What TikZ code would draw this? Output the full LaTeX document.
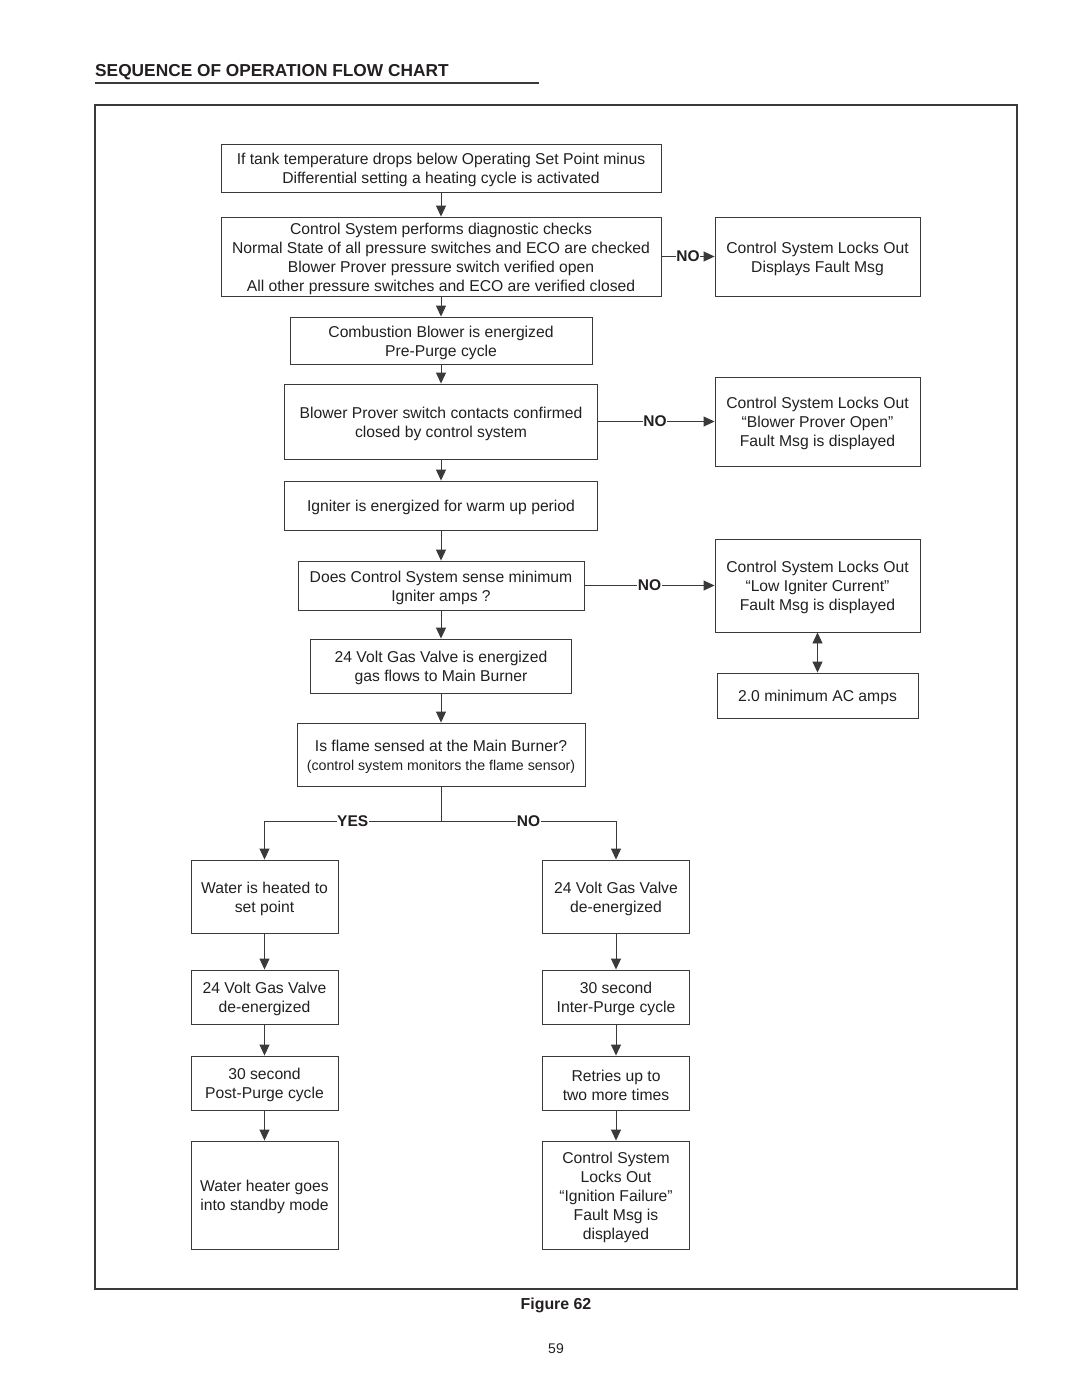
\documentclass[tikz,border=0pt]{standalone}
\usepackage{fontspec}
\setmainfont{Liberation Sans}
\usetikzlibrary{arrows.meta}
\definecolor{ink}{HTML}{231F20}
\definecolor{ln}{HTML}{3A3A3A}
\tikzset{
  frame/.style={draw=ln, line width=0.9pt, inner sep=0pt},
  txt/.style={align=center, inner sep=0pt, text=ink, font=\fontsize{15.7}{19}\selectfont},
  arr/.style={draw=ln, line width=0.9pt, -{Triangle[length=11pt,width=10pt]}},
  dblarr/.style={draw=ln, line width=0.9pt, {Triangle[length=11pt,width=10pt]}-{Triangle[length=11pt,width=10pt]}},
  plain/.style={draw=ln, line width=0.9pt},
  lbl/.style={fill=white, inner sep=0.5pt, text=ink, font=\fontsize{15.5}{16}\selectfont\bfseries},
}
% \flowbox{name}{center}{width}{height}{text}
\newcommand\flowbox[5]{%
  \node[frame, minimum width=#3, minimum height=#4] (#1) at (#2) {};
  \node[txt] (#1-t) at ([yshift=-2pt]#1.center) {#5};
}
\begin{document}
\begin{tikzpicture}[x=1pt,y=-1pt]
\useasboundingbox (0,0) rectangle (1080,1397);
% title
\node[anchor=base west, inner sep=0, text=ink, font=\fontsize{17.3}{20}\selectfont\bfseries] (title) at (95,77) {SEQUENCE OF OPERATION FLOW CHART};
\draw[ln, line width=1.8pt] (95,83) -- (539,83);
% frame
\draw[ln, line width=1.8pt] (95,105) rectangle (1017,1289);

% main column
\flowbox{b1}{441,168}{440pt}{48pt}{If tank temperature drops below Operating Set Point minus\\Differential setting a heating cycle is activated}
\flowbox{b2}{441,256.5}{440pt}{79pt}{Control System performs diagnostic checks\\Normal State of all pressure switches and ECO are checked\\Blower Prover pressure switch verified open\\All other pressure switches and ECO are verified closed}
\flowbox{b3}{441,340.5}{302pt}{47pt}{Combustion Blower is energized\\Pre-Purge cycle}
\flowbox{b4}{441,421.5}{313pt}{75pt}{Blower Prover switch contacts confirmed\\closed by control system}
\flowbox{b5}{441,505.5}{313pt}{49pt}{Igniter is energized for warm up period}
\flowbox{b6}{441,585.5}{286pt}{49pt}{Does Control System sense minimum\\Igniter amps ?}
\flowbox{b7}{441,666}{261pt}{54pt}{24 Volt Gas Valve is energized\\gas flows to Main Burner}
\flowbox{b8}{441,754.5}{288pt}{63pt}{Is flame sensed at the Main Burner?\\{\fontsize{14.2}{19}\selectfont(control system monitors the flame sensor)}}

% right column
\flowbox{r1}{817.5,256.5}{205pt}{79pt}{Control System Locks Out\\Displays Fault Msg}
\flowbox{r2}{817.5,421.5}{205pt}{89pt}{Control System Locks Out\\“Blower Prover Open”\\Fault Msg is displayed}
\flowbox{r3}{817.5,585.5}{205pt}{93pt}{Control System Locks Out\\“Low Igniter Current”\\Fault Msg is displayed}
\flowbox{r4}{817.5,695.5}{201pt}{45pt}{2.0 minimum AC amps}

% lower left column
\flowbox{l1}{264.5,896.5}{147pt}{73pt}{Water is heated to\\set point}
\flowbox{l2}{264.5,997}{147pt}{54pt}{24 Volt Gas Valve\\de-energized}
\flowbox{l3}{264.5,1083}{147pt}{54pt}{30 second\\Post-Purge cycle}
\flowbox{l4}{264.5,1195}{147pt}{108pt}{Water heater goes\\into standby mode}

% lower right column
\flowbox{m1}{616,896.5}{147pt}{73pt}{24 Volt Gas Valve\\de-energized}
\flowbox{m2}{616,997}{147pt}{54pt}{30 second\\Inter-Purge cycle}
\flowbox{m3}{616,1083}{147pt}{54pt}{Retries up to\\two more times}
\flowbox{m4}{616,1195}{147pt}{108pt}{Control System\\Locks Out\\“Ignition Failure”\\Fault Msg is\\displayed}

% main arrows
\draw[arr] (b1) -- (b2);
\draw[arr] (b2) -- (b3);
\draw[arr] (b3) -- (b4);
\draw[arr] (b4) -- (b5);
\draw[arr] (b5) -- (b6);
\draw[arr] (b6) -- (b7);
\draw[arr] (b7) -- (b8);

% NO arrows to right
\draw[arr] (b2.east) -- node[lbl, pos=0.5] {NO} (b2.east -| r1.west);
\draw[arr] (b4.east) -- node[lbl, pos=0.49] {NO} (b4.east -| r2.west);
\draw[arr] (b6.east) -- node[lbl, pos=0.5] {NO} (b6.east -| r3.west);
\draw[dblarr] (r3) -- (r4);

% branch
\coordinate (split) at (441,821);
\draw[plain] (b8.south) -- (split);
\draw[arr] (split) -| node[lbl, pos=0.25] {YES} (l1.north);
\draw[arr] (split) -| node[lbl, pos=0.25] {NO} (m1.north);

\draw[arr] (l1) -- (l2);
\draw[arr] (l2) -- (l3);
\draw[arr] (l3) -- (l4);
\draw[arr] (m1) -- (m2);
\draw[arr] (m2) -- (m3);
\draw[arr] (m3) -- (m4);

% captions
\node[text=ink, font=\fontsize{15.9}{18}\selectfont\bfseries] (fig) at (556,1305) {Figure 62};
\node[text=ink, font=\fontsize{14}{16}\selectfont] (page) at (556,1349) {59};
\end{tikzpicture}
\end{document}
